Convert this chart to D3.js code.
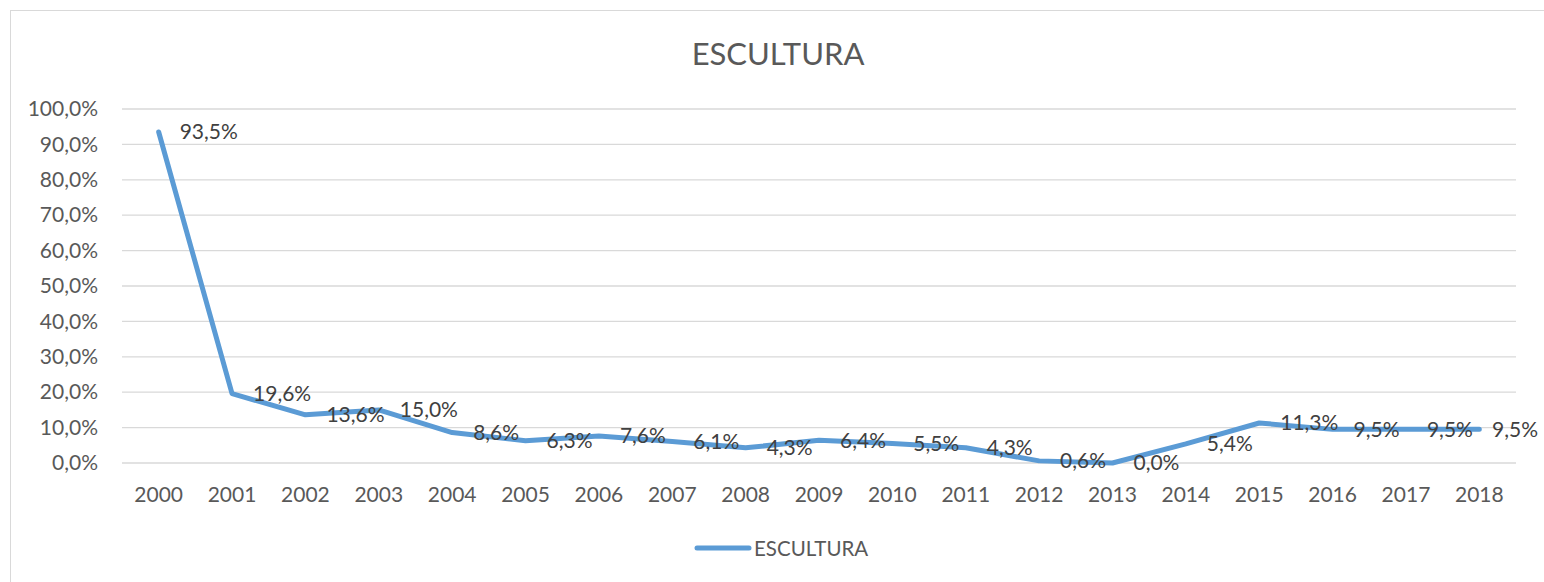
<!DOCTYPE html>
<html>
<head>
<meta charset="utf-8">
<script src="https://cdn.jsdelivr.net/npm/d3@7"></script>
<style>
  body { margin: 0; background: #fff; }
  text { font-family: Lato, "Open Sans", sans-serif; fill: #404040; }
</style>
</head>
<body>
<div id="chart"></div>
<script>
// data
const years = ["2000","2001","2002","2003","2004","2005","2006","2007","2008","2009",
               "2010","2011","2012","2013","2014","2015","2016","2017","2018"];
const values = [93.5, 19.6, 13.6, 15.0, 8.6, 6.3, 7.6, 6.1, 4.3, 6.4,
                5.5, 4.3, 0.6, 0.0, 5.4, 11.3, 9.5, 9.5, 9.5];
const yTicks = [0, 10, 20, 30, 40, 50, 60, 70, 80, 90, 100];
const seriesName = "ESCULTURA";

const W = 1544, H = 582;
const margin = { top: 109, right: 28, bottom: 119, left: 122 };
const width = W - margin.left - margin.right;
const height = H - margin.top - margin.bottom;
const fmt = v => v.toFixed(1).replace(".", ",") + "%";

const svg = d3.select("#chart").append("svg")
    .attr("width", W)
    .attr("height", H);

// chart border
svg.append("rect")
    .attr("x", 10.5).attr("y", 10.5)
    .attr("width", W).attr("height", H)
    .attr("fill", "none")
    .attr("stroke", "#d9d9d9");

svg.append("text")
    .attr("x", 778).attr("y", 65)
    .attr("text-anchor", "middle")
    .style("font-size", "31px")
    .style("fill", "#595959")
    .text(seriesName);

const g = svg.append("g")
    .attr("transform", `translate(${margin.left}, ${margin.top})`);

const x = d3.scaleBand().domain(years).range([0, width]);
const y = d3.scaleLinear().domain([0, 100]).range([height, 0]);

// gridlines
g.selectAll(".grid")
    .data(yTicks)
    .enter().append("line")
    .attr("x1", 0).attr("x2", width)
    .attr("y1", d => y(d)).attr("y2", d => y(d))
    .attr("stroke", "#d9d9d9")
    .attr("stroke-width", 1.3);

// y axis
const yAxis = g.append("g")
    .call(d3.axisLeft(y).tickValues(yTicks).tickSize(0).tickPadding(24).tickFormat(fmt));
yAxis.select(".domain").remove();
yAxis.selectAll("text").style("font-size", "21px").style("fill", "#595959");

// x axis
const xAxis = g.append("g")
    .attr("transform", `translate(0, ${height})`)
    .call(d3.axisBottom(x).tickSize(0).tickPadding(24));
xAxis.select(".domain").remove();
xAxis.selectAll("text").style("font-size", "21px").style("fill", "#595959");

const cx = d => x(d) + x.bandwidth() / 2;

const line = d3.line()
    .x((d, i) => cx(years[i]))
    .y(d => y(d));

g.append("path")
    .datum(values)
    .attr("fill", "none")
    .attr("stroke", "#5b9bd5")
    .attr("stroke-width", 5)
    .attr("stroke-linejoin", "round")
    .attr("stroke-linecap", "round")
    .attr("d", line);

// data labels to the right of each point
g.selectAll(".lbl")
    .data(values)
    .enter().append("text")
    .attr("class", "lbl")
    .attr("x", (d, i) => Math.min(cx(years[i]) + 21, width - 24))
    .attr("y", d => y(d))
    .attr("dy", "0.35em")
    .style("font-size", "21px")
    .text(fmt);

// legend
const leg = svg.append("g").attr("transform", "translate(697, 548)");
leg.append("line")
    .attr("x1", 0).attr("x2", 52)
    .attr("stroke", "#5b9bd5")
    .attr("stroke-width", 5)
    .attr("stroke-linecap", "round");
leg.append("text")
    .attr("x", 57).attr("y", 8)
    .style("font-size", "20.5px")
    .style("fill", "#595959")
    .text(seriesName);
</script>
</body>
</html>
